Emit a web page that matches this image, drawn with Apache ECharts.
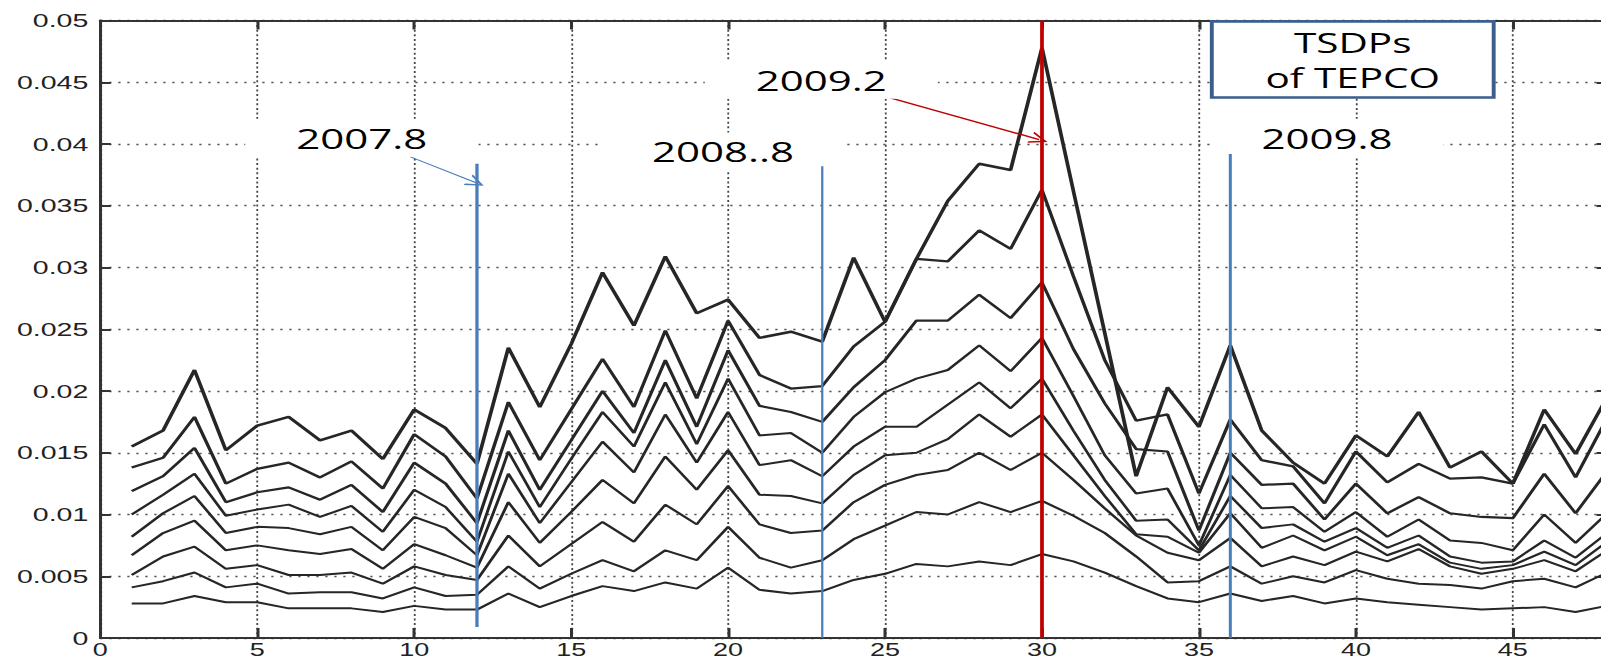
<!DOCTYPE html>
<html>
<head>
<meta charset="utf-8">
<title>TSDPs of TEPCO</title>
<script src="https://cdn.jsdelivr.net/npm/echarts@6.0.0/dist/echarts.min.js"></script>
<style>
  html, body { margin: 0; padding: 0; width: 1601px; height: 664px; overflow: hidden; background: #fff; }
  /* the figure is drawn narrow and stretched sideways to its final width */
  #chart { width: 1080px; height: 664px; transform: scaleX(1.5); transform-origin: 0 0; }
</style>
</head>
<body>
<div id="chart"></div>
<script>
// month index (1 = first month of the record)
const xValues = [1, 2, 3, 4, 5, 6, 7, 8, 9, 10, 11, 12, 13, 14, 15, 16, 17, 18, 19, 20, 21, 22, 23, 24,
                 25, 26, 27, 28, 29, 30, 31, 32, 33, 34, 35, 36, 37, 38, 39, 40, 41, 42, 43, 44, 45, 46, 47, 48];

// nine TSDP curves, top to bottom
const tsdp1 = [0.0155, 0.0168, 0.0217, 0.0152, 0.0172, 0.0179, 0.0160, 0.0168, 0.0145, 0.0185, 0.0170, 0.0141,
               0.0235, 0.0187, 0.0238, 0.0296, 0.0253, 0.0309, 0.0263, 0.0274, 0.0243, 0.0248, 0.0240, 0.0308,
               0.0256, 0.0307, 0.0354, 0.0384, 0.0379, 0.0478, 0.0362, 0.0247, 0.0131, 0.0203, 0.0171, 0.0237,
               0.0168, 0.0142, 0.0125, 0.0164, 0.0147, 0.0183, 0.0138, 0.0151, 0.0125, 0.0185, 0.0149, 0.0195];
const tsdp2 = [0.0138, 0.0146, 0.0179, 0.0125, 0.0137, 0.0142, 0.0130, 0.0143, 0.0121, 0.0165, 0.0147, 0.0113,
               0.0191, 0.0144, 0.0185, 0.0226, 0.0187, 0.0249, 0.0194, 0.0257, 0.0213, 0.0202, 0.0204, 0.0236,
               0.0256, 0.0307, 0.0305, 0.0330, 0.0315, 0.0363, 0.0293, 0.0225, 0.0176, 0.0181, 0.0117, 0.0177,
               0.0144, 0.0139, 0.0109, 0.0151, 0.0126, 0.0141, 0.0129, 0.0130, 0.0125, 0.0173, 0.0130, 0.0178];
const tsdp3 = [0.0119, 0.0131, 0.0154, 0.0110, 0.0118, 0.0122, 0.0112, 0.0124, 0.0102, 0.0142, 0.0125, 0.0093,
               0.0168, 0.0120, 0.0160, 0.0200, 0.0166, 0.0225, 0.0171, 0.0233, 0.0188, 0.0183, 0.0175, 0.0203,
               0.0225, 0.0257, 0.0257, 0.0278, 0.0259, 0.0288, 0.0234, 0.0190, 0.0153, 0.0151, 0.0087, 0.0150,
               0.0124, 0.0125, 0.0096, 0.0125, 0.0101, 0.0114, 0.0101, 0.0098, 0.0097, 0.0133, 0.0101, 0.0135];
const tsdp4 = [0.0100, 0.0116, 0.0133, 0.0099, 0.0104, 0.0108, 0.0098, 0.0107, 0.0086, 0.0120, 0.0106, 0.0078,
               0.0151, 0.0106, 0.0145, 0.0183, 0.0155, 0.0207, 0.0157, 0.0210, 0.0164, 0.0166, 0.0150, 0.0179,
               0.0199, 0.0210, 0.0217, 0.0237, 0.0216, 0.0243, 0.0196, 0.0148, 0.0117, 0.0121, 0.0075, 0.0132,
               0.0105, 0.0106, 0.0086, 0.0102, 0.0082, 0.0096, 0.0079, 0.0077, 0.0071, 0.0100, 0.0077, 0.0101];
const tsdp5 = [0.0082, 0.0101, 0.0115, 0.0085, 0.0090, 0.0089, 0.0084, 0.0090, 0.0071, 0.0098, 0.0089, 0.0067,
               0.0133, 0.0093, 0.0126, 0.0159, 0.0134, 0.0181, 0.0142, 0.0183, 0.0140, 0.0144, 0.0131, 0.0155,
               0.0171, 0.0171, 0.0189, 0.0207, 0.0186, 0.0210, 0.0168, 0.0128, 0.0095, 0.0096, 0.0071, 0.0115,
               0.0089, 0.0092, 0.0078, 0.0089, 0.0073, 0.0083, 0.0066, 0.0061, 0.0062, 0.0079, 0.0065, 0.0085];
const tsdp6 = [0.0067, 0.0085, 0.0095, 0.0071, 0.0075, 0.0071, 0.0068, 0.0072, 0.0056, 0.0076, 0.0067, 0.0057,
               0.0110, 0.0077, 0.0102, 0.0128, 0.0109, 0.0147, 0.0120, 0.0152, 0.0116, 0.0115, 0.0109, 0.0132,
               0.0148, 0.0150, 0.0161, 0.0181, 0.0163, 0.0181, 0.0148, 0.0115, 0.0084, 0.0082, 0.0069, 0.0101,
               0.0073, 0.0083, 0.0071, 0.0082, 0.0067, 0.0076, 0.0061, 0.0056, 0.0059, 0.0070, 0.0059, 0.0078];
const tsdp7 = [0.0051, 0.0066, 0.0074, 0.0056, 0.0059, 0.0051, 0.0051, 0.0053, 0.0044, 0.0058, 0.0051, 0.0047,
               0.0083, 0.0058, 0.0076, 0.0094, 0.0078, 0.0108, 0.0092, 0.0123, 0.0092, 0.0085, 0.0087, 0.0110,
               0.0124, 0.0132, 0.0136, 0.0150, 0.0136, 0.0150, 0.0128, 0.0105, 0.0083, 0.0069, 0.0063, 0.0081,
               0.0058, 0.0066, 0.0059, 0.0070, 0.0062, 0.0072, 0.0058, 0.0052, 0.0056, 0.0063, 0.0054, 0.0071];
const tsdp8 = [0.0041, 0.0046, 0.0053, 0.0041, 0.0044, 0.0036, 0.0037, 0.0037, 0.0032, 0.0041, 0.0034, 0.0035,
               0.0058, 0.0040, 0.0052, 0.0063, 0.0054, 0.0071, 0.0063, 0.0090, 0.0065, 0.0057, 0.0063, 0.0080,
               0.0091, 0.0102, 0.0100, 0.0110, 0.0102, 0.0111, 0.0099, 0.0085, 0.0066, 0.0045, 0.0046, 0.0058,
               0.0044, 0.0050, 0.0045, 0.0055, 0.0048, 0.0044, 0.0043, 0.0040, 0.0046, 0.0048, 0.0041, 0.0053];
const tsdp9 = [0.0028, 0.0028, 0.0034, 0.0029, 0.0029, 0.0024, 0.0024, 0.0024, 0.0021, 0.0026, 0.0023, 0.0023,
               0.0036, 0.0025, 0.0034, 0.0042, 0.0038, 0.0045, 0.0040, 0.0057, 0.0039, 0.0036, 0.0038, 0.0047,
               0.0052, 0.0060, 0.0058, 0.0062, 0.0059, 0.0068, 0.0062, 0.0053, 0.0042, 0.0032, 0.0029, 0.0036,
               0.0030, 0.0034, 0.0028, 0.0032, 0.0029, 0.0027, 0.0025, 0.0023, 0.0024, 0.0025, 0.0021, 0.0026];

// event markers: month, lower and upper end of each vertical line
const markerX = [12, 23, 30, 36];
const markerBottom = [0.0009, 0, 0, 0];
const markerTop = [0.0384, 0.0382, 0.05, 0.0392];

// event captions and where they sit (data units)
const captionText = ['2007.8', '2008..8', '2009.2', '2009.8'];
const captionX = [8.33, 19.84, 22.97, 39.08];
const captionY = [0.0405, 0.0394, 0.0452, 0.0405];

// pointer arrows from caption to marker (data units)
const arrowFrom = [[9.88, 0.03896], [25.11, 0.04377]];
const arrowTo = [[11.97, 0.03686], [29.91, 0.04036]];

// title box
const boxText = 'TSDPs\nof TEPCO';
const boxFrom = [35.41, 0.04376];
const boxTo = [44.39, 0.04993];

const curves = [tsdp1, tsdp2, tsdp3, tsdp4, tsdp5, tsdp6, tsdp7, tsdp8, tsdp9];
const curveWidths = [2.5, 2.3, 2.2, 2, 2, 2, 2, 2, 2];
const markerColors = ['#4A7EBB', '#4A7EBB', '#C00000', '#4A7EBB'];
const markerWidths = [2.2, 1.5, 2.5, 2];
const arrowColors = ['#4A7EBB', '#C00000'];
const arrowWidths = [1, 1.4];

const AXIS = '#333';
const TICK_FONT = '"Liberation Sans", Arial, Helvetica, sans-serif';
const NOTE_FONT = '"Open Sans", "Noto Sans", sans-serif';
const openArrow = 'path://M0,10 L5,0 L10,10 L8.6,10 L5,2.6 L1.4,10 Z';

const chart = echarts.init(document.getElementById('chart'), null, { renderer: 'svg' });

const series = curves.map((vals, i) => ({
  name: 'TSDP ' + (i + 1),
  type: 'line',
  data: xValues.map((x, j) => [x, vals[j]]),
  showSymbol: false,
  symbol: 'none',
  lineStyle: { color: '#262626', width: curveWidths[i] },
  silent: true,
  z: 3
}));

markerX.forEach((x, i) => {
  series.push({
    name: 'event ' + (i + 1),
    type: 'line',
    data: [[x, markerBottom[i]], [x, markerTop[i]]],
    showSymbol: false,
    symbol: 'none',
    lineStyle: { color: markerColors[i], width: markerWidths[i] },
    silent: true,
    z: 6
  });
});

// captions, arrows and the title box ride on the first event series
const host = series[curves.length];
host.markPoint = {
  silent: true,
  symbol: 'rect',
  symbolSize: 1,
  itemStyle: { color: 'rgba(0,0,0,0)' },
  label: {
    show: true,
    position: 'inside',
    formatter: p => p.name,
    color: '#000',
    fontFamily: NOTE_FONT,
    fontSize: 28,
    backgroundColor: '#fff',
    padding: [6, 34, 4, 34]
  },
  data: captionText.map((t, i) => ({ name: t, coord: [captionX[i], captionY[i]] }))
};
host.markLine = {
  silent: true,
  symbol: ['none', openArrow],
  symbolSize: 12,
  label: { show: false },
  data: arrowFrom.map((from, i) => [
    { coord: from, lineStyle: { color: arrowColors[i], width: arrowWidths[i], type: 'solid' },
      itemStyle: { color: arrowColors[i] } },
    { coord: arrowTo[i] }
  ])
};
host.markArea = {
  silent: true,
  itemStyle: { color: '#fff', borderColor: '#3B5E8C', borderWidth: 2.6 },
  label: {
    show: true,
    position: 'inside',
    color: '#000',
    fontFamily: NOTE_FONT,
    fontSize: 27,
    lineHeight: 35
  },
  data: [[{ name: boxText, coord: boxFrom }, { coord: boxTo }]]
};

const option = {
  animation: false,
  backgroundColor: '#fff',
  grid: {
    left: 66.87, right: 8.67, top: 20.5, bottom: 26,
    containLabel: false, outerBoundsMode: 'none'
  },
  xAxis: [{
    type: 'value', min: 0, max: 48, interval: 5,
    position: 'bottom',
    axisLine: { show: true, onZero: false, lineStyle: { color: AXIS, width: 2 } },
    axisTick: { show: true, inside: true, length: 10, lineStyle: { color: AXIS, width: 2 } },
    axisLabel: { show: true, showMaxLabel: false, margin: 3, color: '#222', fontSize: 18, lineHeight: 18, fontFamily: TICK_FONT },
    splitLine: { show: true, lineStyle: { color: '#444', width: 1.2, type: [2, 2.6] } }
  }, {
    type: 'value', min: 0, max: 48, interval: 5,
    position: 'top',
    axisLine: { show: true, onZero: false, lineStyle: { color: AXIS, width: 2 } },
    axisTick: { show: true, inside: true, length: 9, lineStyle: { color: AXIS, width: 2 } },
    axisLabel: { show: false },
    splitLine: { show: false }
  }],
  yAxis: [{
    type: 'value', min: 0, max: 0.05, interval: 0.005,
    position: 'left',
    axisLine: { show: true, onZero: false, lineStyle: { color: AXIS, width: 2 } },
    axisTick: { show: true, inside: true, length: 7, lineStyle: { color: AXIS, width: 2 } },
    axisLabel: {
      show: true, margin: 8, color: '#222', fontSize: 19, fontFamily: TICK_FONT,
      formatter: v => String(+v.toFixed(3))
    },
    splitLine: { show: true, lineStyle: { color: '#555', width: 1.4, type: [1.5, 4.5] } }
  }, {
    type: 'value', min: 0, max: 0.05, interval: 0.005,
    position: 'right',
    axisLine: { show: true, onZero: false, lineStyle: { color: AXIS, width: 2 } },
    axisTick: { show: true, inside: true, length: 7, lineStyle: { color: AXIS, width: 2 } },
    axisLabel: { show: false },
    splitLine: { show: false }
  }],
  series: series
};

chart.setOption(option);
</script>
</body>
</html>
